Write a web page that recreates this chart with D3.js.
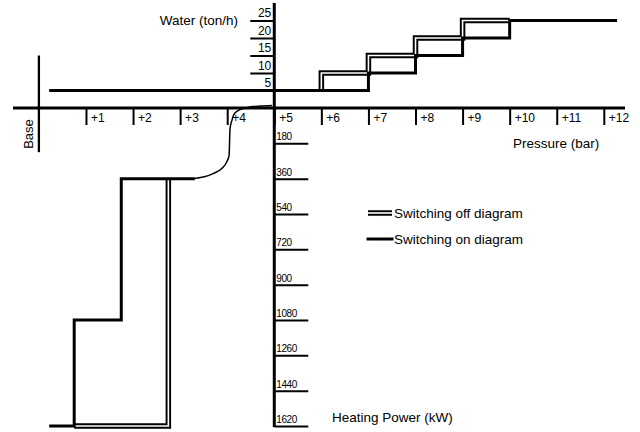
<!DOCTYPE html>
<html>
<head>
<meta charset="utf-8">
<script src="https://cdn.jsdelivr.net/npm/d3@7"></script>
<style>
  html, body { margin: 0; padding: 0; background: #fff; }
  svg { display: block; font-family: "Liberation Sans", Arial, sans-serif; }
</style>
</head>
<body>
<svg id="chart" width="640" height="432"></svg>
<script>
// ---------- data ----------
const pressureTicks = [1, 2, 3, 4, 5, 6, 7, 8, 9, 10, 11, 12];
const waterTicks = [5, 10, 15, 20, 25];
const powerTicks = [180, 360, 540, 720, 900, 1080, 1260, 1440, 1620];

// water (ton/h) vs pressure (bar)
const onWater = [[0.25, 5], [7, 5], [7, 10], [8, 10], [8, 15], [9, 15], [9, 20], [10, 20], [10, 25], [12.25, 25]];
const offWater = [[6, 5], [6, 10], [7, 10], [7, 15], [8, 15], [8, 20], [9, 20], [9, 25], [10, 25]];

// heating power (kW) vs pressure (bar)
const onPower = [[0.25, 1620], [0.75, 1620], [0.75, 1080], [1.75, 1080], [1.75, 360], [3.28, 360]];
const onPowerCurve = [[3.28, 360], [3.49, 352], [3.70, 334], [3.88, 309], [3.99, 275], [4.04, 241],
                      [4.06, 105], [4.10, 63], [4.14, 34], [4.24, 12], [4.42, -2], [4.70, -10], [4.95, -13]];
const offPower = [[0.75, 1620], [2.75, 1620], [2.75, 360]];

const pressureExtent = [-0.55, 12.45];
const baseLine = { pressure: 0, water: 15, power: 225 };
const verticalAxisExtent = { water: 30, power: 1625 };

const legendLabels = ["Switching off diagram", "Switching on diagram"];
const axisTitles = { water: "Water (ton/h)", pressure: "Pressure (bar)", power: "Heating Power (kW)", base: "Base" };

// ---------- scales ----------
const svg = d3.select("#chart");
const x = d3.scaleLinear().domain(pressureExtent).range([13, 625]);
const yW = d3.scaleLinear().domain([0, 25]).range([108, 20.5]);
const yP = d3.scaleLinear().domain([0, 1620]).range([108, 426]);
const FONT = "Liberation Sans, Arial, sans-serif";

// ---------- base line ----------
svg.append("line")
  .attr("x1", x(baseLine.pressure)).attr("x2", x(baseLine.pressure))
  .attr("y1", yW(baseLine.water)).attr("y2", yP(baseLine.power))
  .attr("stroke", "#000").attr("stroke-width", 2.3);

svg.append("text")
  .attr("transform", `translate(33,134) rotate(-90)`)
  .attr("text-anchor", "middle")
  .attr("font-size", 13)
  .text(axisTitles.base);

// ---------- axes ----------
// pressure axis
const gx = svg.append("g").attr("transform", `translate(0,${yW(0)})`)
  .call(d3.axisBottom(x).tickValues(pressureTicks).tickSize(17).tickFormat(d => "+" + d));
gx.select(".domain").remove();
gx.selectAll(".tick line").attr("stroke", "#000").attr("stroke-width", 2);
gx.selectAll(".tick text")
  .attr("x", 4.5).attr("y", 14).attr("dy", 0)
  .attr("text-anchor", "start")
  .attr("font-size", 12).attr("font-family", FONT)
  .attr("fill", "#000");

// water axis
const gw = svg.append("g").attr("transform", `translate(${x(5)},0)`)
  .call(d3.axisLeft(yW).tickValues(waterTicks).tickSize(24).tickFormat(d3.format("d")));
gw.select(".domain").remove();
gw.selectAll(".tick line").attr("stroke", "#000").attr("stroke-width", 2);
gw.selectAll(".tick text")
  .attr("x", -3).attr("y", -4).attr("dy", 0)
  .attr("text-anchor", "end")
  .attr("font-size", 12).attr("font-family", FONT)
  .attr("fill", "#000");

// power axis
const gp = svg.append("g").attr("transform", `translate(${x(5)},0)`)
  .call(d3.axisRight(yP).tickValues(powerTicks).tickSize(34).tickFormat(d3.format("d")));
gp.select(".domain").remove();
gp.selectAll(".tick line").attr("stroke", "#000").attr("stroke-width", 2);
gp.selectAll(".tick text")
  .attr("x", 2).attr("y", -3.5).attr("dy", 0)
  .attr("text-anchor", "start")
  .attr("font-size", 10).attr("letter-spacing", -0.4)
  .attr("font-family", FONT)
  .attr("fill", "#000");

// main axis lines
svg.append("line")
  .attr("x1", x(pressureExtent[0])).attr("x2", x(pressureExtent[1]))
  .attr("y1", yW(0)).attr("y2", yW(0))
  .attr("stroke", "#000").attr("stroke-width", 3);
svg.append("line")
  .attr("x1", x(5)).attr("x2", x(5))
  .attr("y1", yW(verticalAxisExtent.water)).attr("y2", yP(verticalAxisExtent.power))
  .attr("stroke", "#000").attr("stroke-width", 3);

// ---------- series ----------
const lineW = d3.line().x(d => x(d[0])).y(d => yW(d[1]));
const lineP = d3.line().x(d => x(d[0])).y(d => yP(d[1]));
const curveP = d3.line().x(d => x(d[0])).y(d => yP(d[1])).curve(d3.curveMonotoneX);

function doubleLine(d) {
  svg.append("path").attr("d", d).attr("fill", "none")
    .attr("stroke", "#000").attr("stroke-width", 5.5).attr("stroke-linejoin", "miter");
  svg.append("path").attr("d", d).attr("fill", "none")
    .attr("stroke", "#fff").attr("stroke-width", 1.6).attr("stroke-linejoin", "miter");
}
function thickLine(d) {
  svg.append("path").attr("d", d).attr("fill", "none")
    .attr("stroke", "#000").attr("stroke-width", 3)
    .attr("stroke-linejoin", "miter").attr("stroke-linecap", "square");
}

doubleLine(lineW(offWater));
doubleLine(lineP(offPower));
thickLine(lineW(onWater));
thickLine(lineP(onPower));
svg.append("path").attr("d", curveP(onPowerCurve)).attr("fill", "none")
  .attr("stroke", "#000").attr("stroke-width", 1.5);

// ---------- axis titles ----------
svg.append("text").attr("x", 238).attr("y", 25).attr("text-anchor", "end")
  .attr("font-size", 13.5).text(axisTitles.water);
svg.append("text").attr("x", 513).attr("y", 147.5).attr("text-anchor", "start")
  .attr("font-size", 13.5).text(axisTitles.pressure);
svg.append("text").attr("x", 332).attr("y", 422).attr("text-anchor", "start")
  .attr("font-size", 13.5).text(axisTitles.power);

// ---------- legend ----------
const legendY = [213, 239];
legendLabels.forEach((label, i) => {
  const path = `M368,${legendY[i]}H392`;
  if (i === 0) doubleLine(path); else thickLine(path);
  svg.append("text").attr("x", 394).attr("y", legendY[i] + 4.5)
    .attr("font-size", 13.5).text(label);
});
</script>
</body>
</html>
